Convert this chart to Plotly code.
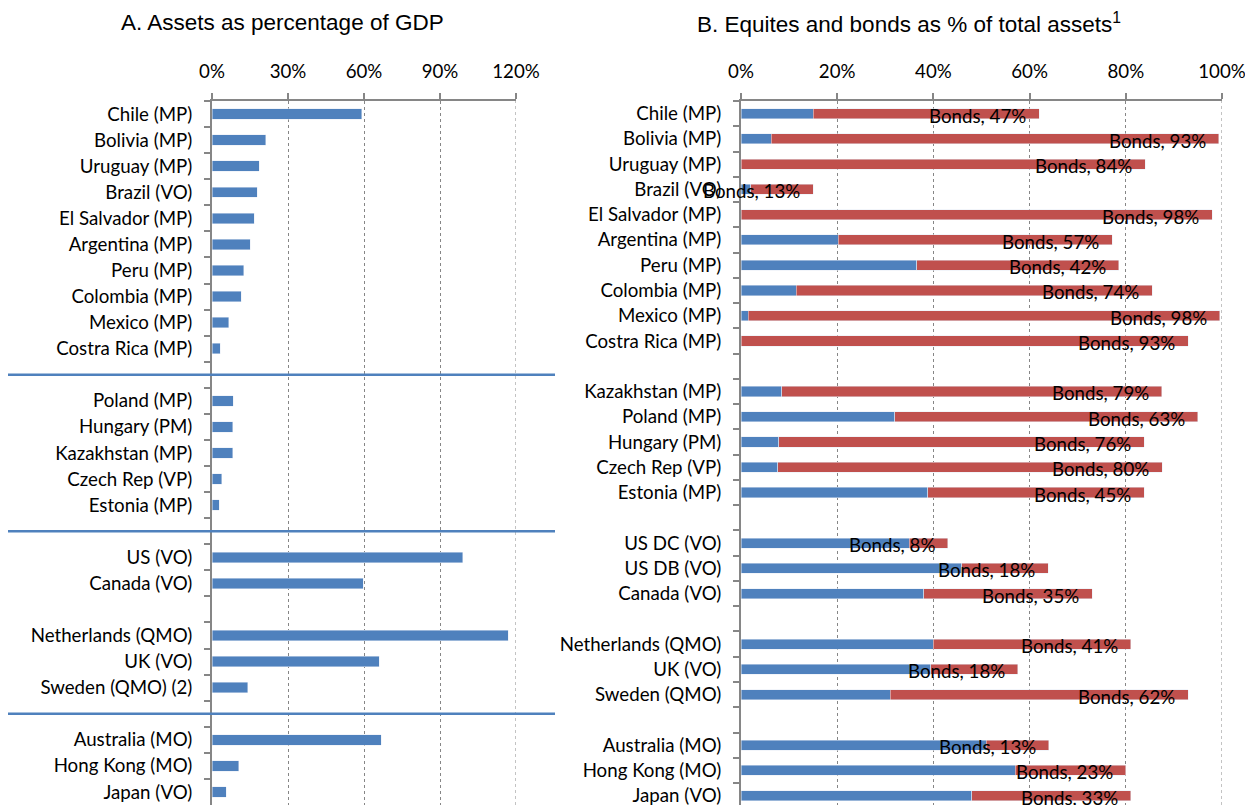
import plotly.graph_objects as go

# ---------------- data ----------------
cats_a = ["Chile (MP)", "Bolivia (MP)", "Uruguay (MP)", "Brazil (VO)", "El Salvador (MP)",
          "Argentina (MP)", "Peru (MP)", "Colombia (MP)", "Mexico (MP)", "Costra Rica (MP)", "",
          "Poland (MP)", "Hungary (PM)", "Kazakhstan (MP)", "Czech Rep (VP)", "Estonia (MP)", "",
          "US (VO)", "Canada (VO)", "",
          "Netherlands (QMO)", "UK (VO)", "Sweden (QMO) (2)", "",
          "Australia (MO)", "Hong Kong (MO)", "Japan (VO)"]
assets_gdp = [59.1, 21.3, 18.6, 17.8, 16.6, 15.0, 12.5, 11.6, 6.6, 3.3, None,
              8.3, 8.2, 8.2, 3.8, 2.9, None,
              98.9, 59.8, None,
              116.9, 66.0, 14.2, None,
              66.8, 10.6, 5.6]

cats_b = ["Chile (MP)", "Bolivia (MP)", "Uruguay (MP)", "Brazil (VO)", "El Salvador (MP)",
          "Argentina (MP)", "Peru (MP)", "Colombia (MP)", "Mexico (MP)", "Costra Rica (MP)", "",
          "Kazakhstan (MP)", "Poland (MP)", "Hungary (PM)", "Czech Rep (VP)", "Estonia (MP)", "",
          "US DC (VO)", "US DB (VO)", "Canada (VO)", "",
          "Netherlands (QMO)", "UK (VO)", "Sweden (QMO)", "",
          "Australia (MO)", "Hong Kong (MO)", "Japan (VO)"]
equities = [15.0, 6.3, 0.0, 2.0, 0.0, 20.2, 36.5, 11.5, 1.5, 0.0, None,
            8.5, 32.0, 7.8, 7.6, 38.8, None,
            35.0, 45.9, 38.0, None,
            40.0, 39.5, 31.0, None,
            51.0, 57.0, 48.0]
bonds = [47, 93, 84, 13, 98, 57, 42, 74, 98, 93, None,
         79, 63, 76, 80, 45, None,
         8, 18, 35, None,
         41, 18, 62, None,
         13, 23, 33]

ticks_a = [0, 30, 60, 90, 120]
ticks_b = [0, 20, 40, 60, 80, 100]

title_a = "A. Assets as percentage of GDP"
title_b = "B. Equites and bonds as % of total assets<sup>1</sup>"

# ---------------- styling ----------------
BLUE = "#4F81BD"
RED = "#C0504D"
GRAY = "#868686"
FONT = "Lato"
FS = 18.7
W, H = 1245, 805
TOP = 101


def uniq(cats):
    out, k = [], 0
    for c in cats:
        if c == "":
            k += 1
            out.append(" " * k)
        else:
            out.append(c)
    return out


ya = uniq(cats_a)
yb = uniq(cats_b)

fig = go.Figure()
fig.add_trace(go.Bar(y=ya, x=assets_gdp, orientation="h", marker_color=BLUE,
                     width=0.4, xaxis="x", yaxis="y", showlegend=False, name="Assets"))
fig.add_trace(go.Bar(y=yb, x=equities, orientation="h", marker_color=BLUE,
                     width=0.4, xaxis="x2", yaxis="y2", showlegend=False, name="Equities"))
fig.add_trace(go.Bar(y=yb, x=bonds, orientation="h", marker_color=RED,
                     width=0.4, xaxis="x2", yaxis="y2", showlegend=False, name="Bonds"))

common_x = dict(side="top", showgrid=True, gridcolor=GRAY, griddash="dot", gridwidth=1,
                showline=True, linecolor=GRAY, linewidth=2, ticks="outside", ticklen=6,
                tickwidth=2, tickcolor=GRAY, zeroline=False, ticklabelstandoff=8,
                ticklabeloverflow="allow",
                tickfont=dict(family=FONT, size=FS, color="black"), automargin=False,
                fixedrange=True)
common_y = dict(type="category", domain=[0, 1], tickson="boundaries", ticks="outside",
                ticklen=6, tickwidth=2, tickcolor=GRAY, showline=True, linecolor=GRAY,
                linewidth=2, showgrid=False, zeroline=False, ticklabelstandoff=14,
                tickfont=dict(family=FONT, size=FS, color="black"), automargin=False,
                fixedrange=True)

slot_b = 25.26
nb = (H - TOP) / slot_b

fig.update_layout(
    width=W, height=H,
    margin=dict(l=0, r=0, t=TOP, b=0, pad=0),
    paper_bgcolor="white", plot_bgcolor="white",
    barmode="stack",
    font=dict(family=FONT, size=FS, color="black"),
    xaxis=dict(common_x, domain=[212 / W, 516 / W], range=[0, 120], anchor="y",
               tickvals=ticks_a, ticktext=[f"{v}%" for v in ticks_a]),
    yaxis=dict(common_y, anchor="x", categoryorder="array", categoryarray=ya,
               range=[len(ya) - 0.5, -0.5]),
    xaxis2=dict(common_x, domain=[741 / W, 1222 / W], range=[0, 100], anchor="y2",
                tickvals=ticks_b, ticktext=[f"{v}%" for v in ticks_b]),
    yaxis2=dict(common_y, anchor="x2", categoryorder="array", categoryarray=yb,
                range=[nb - 0.5, -0.5]),
)

# gridline at the far edge of each panel
fig.add_shape(type="line", xref="x", yref="paper", x0=ticks_a[-1], x1=ticks_a[-1], y0=0, y1=1,
              line=dict(color=GRAY, width=1, dash="dot"), layer="below")
fig.add_shape(type="line", xref="x2", yref="paper", x0=ticks_b[-1], x1=ticks_b[-1], y0=0, y1=1,
              line=dict(color=GRAY, width=1, dash="dot"), layer="below")

# separator lines in panel A at the blank slots
for i, c in enumerate(cats_a):
    if c == "" and i != cats_a.index("Canada (VO)") + 1:
        fig.add_shape(type="line", xref="paper", yref="y", x0=8 / W, x1=555 / W,
                      y0=i, y1=i, line=dict(color=BLUE, width=2.5))

# bond labels
for i, c in enumerate(cats_b):
    if bonds[i] is None:
        continue
    fig.add_annotation(x=(equities[i] or 0) + bonds[i], y=yb[i], xref="x2", yref="y2",
                       text=f"Bonds, {bonds[i]}%", showarrow=False, xanchor="right",
                       xshift=-11, yshift=-2, font=dict(family=FONT, size=FS, color="black"))

# panel titles
ty = 1 + (TOP - 23) / (H - TOP)
fig.add_annotation(x=282 / W, y=ty, xref="paper", yref="paper", text=title_a,
                   showarrow=False, xanchor="center", yanchor="middle",
                   font=dict(family="Liberation Sans", size=22.5, color="black"))
fig.add_annotation(x=909 / W, y=ty, xref="paper", yref="paper", text=title_b,
                   showarrow=False, xanchor="center", yanchor="middle",
                   font=dict(family="Liberation Sans", size=22.5, color="black"))

fig.write_html("out.html", config={"displayModeBar": False},
               post_script="document.body.style.margin='0';document.body.style.overflow='hidden';")
